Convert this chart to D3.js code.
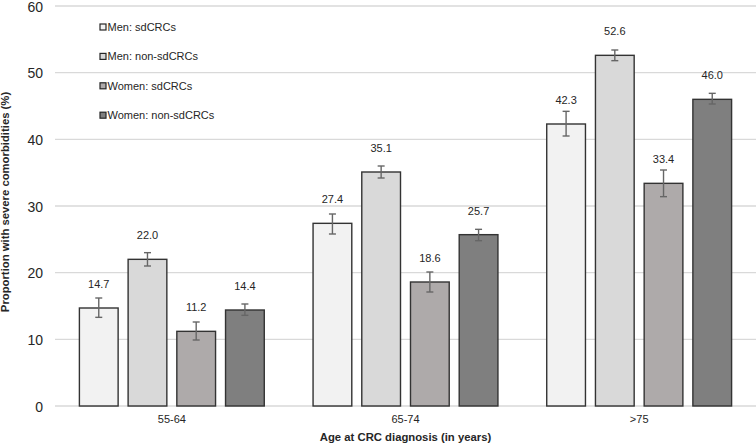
<!DOCTYPE html>
<html lang="en">
<head>
    <meta charset="UTF-8">
    <title>Severe comorbidities by age at CRC diagnosis</title>
    <script src="https://d3js.org/d3.v7.min.js"></script>
    <style>
        body { margin: 0; background: #fff; }
        svg text { font-family: "Liberation Sans", Arial, sans-serif; fill: #262626; }
    </style>
</head>
<body>
<svg id="chart" width="756" height="443"></svg>
<script>
    // data
    const ageGroups = ["55-64", "65-74", ">75"];
    const seriesNames = ["Men: sdCRCs", "Men: non-sdCRCs", "Women: sdCRCs", "Women: non-sdCRCs"];
    const seriesColors = ["#f2f2f2", "#d9d9d9", "#aeaaaa", "#7f7f7f"];
    const menSd = [14.7, 27.4, 42.3];
    const menNon = [22.0, 35.1, 52.6];
    const womenSd = [11.2, 18.6, 33.4];
    const womenNon = [14.4, 25.7, 46.0];
    // lower / upper ends of the error bars
    const menSdLow = [13.3, 25.8, 40.5], menSdHigh = [16.2, 28.8, 44.2];
    const menNonLow = [21.0, 34.2, 51.8], menNonHigh = [23.0, 36.0, 53.4];
    const womenSdLow = [9.9, 17.1, 31.4], womenSdHigh = [12.6, 20.1, 35.4];
    const womenNonLow = [13.6, 24.8, 45.3], womenNonHigh = [15.3, 26.5, 46.9];
    const yTicks = [0, 10, 20, 30, 40, 50, 60];

    const values = [menSd, menNon, womenSd, womenNon];
    const lows = [menSdLow, menNonLow, womenSdLow, womenNonLow];
    const highs = [menSdHigh, menNonHigh, womenSdHigh, womenNonHigh];

    const rows = [];
    ageGroups.forEach((g, gi) => {
        seriesNames.forEach((s, si) => {
            rows.push({group: g, series: s, color: seriesColors[si],
                value: values[si][gi], low: lows[si][gi], high: highs[si][gi]});
        });
    });

    const margin = {left: 55, right: 756, top: 6, bottom: 406};
    const svg = d3.select("#chart");

    const x0 = d3.scaleBand().domain(ageGroups).range([margin.left, margin.right]);
    const pad = 24.4;
    const x1 = d3.scaleBand().domain(seriesNames)
        .range([pad, x0.bandwidth() - pad]).paddingInner(0.205);
    const y = d3.scaleLinear().domain([0, 60]).range([margin.bottom, margin.top]);

    // gridlines
    svg.append("g").selectAll("line")
        .data(yTicks)
        .join("line")
        .attr("x1", margin.left).attr("x2", margin.right)
        .attr("y1", d => y(d)).attr("y2", d => y(d))
        .attr("stroke", "#d9d9d9").attr("stroke-width", 1.3);

    // y axis labels
    const yAxis = d3.axisLeft(y).tickValues(yTicks).tickSize(0).tickPadding(12);
    const yg = svg.append("g")
        .attr("transform", "translate(" + margin.left + ",0)")
        .call(yAxis);
    yg.select(".domain").remove();
    yg.selectAll("text").style("font-size", "14px").attr("dy", "0.38em").attr("fill", "#262626");

    // bars
    svg.append("g").selectAll("rect")
        .data(rows)
        .join("rect")
        .attr("x", d => x0(d.group) + x1(d.series))
        .attr("y", d => y(d.value))
        .attr("width", x1.bandwidth())
        .attr("height", d => y(0) - y(d.value))
        .attr("fill", d => d.color)
        .attr("stroke", "#333")
        .attr("stroke-width", 1.4);

    // error bars
    const eb = svg.append("g").attr("stroke", "#666").attr("stroke-width", 1.4);
    const cx = d => x0(d.group) + x1(d.series) + x1.bandwidth() / 2;
    eb.selectAll(".stem").data(rows).join("line").attr("class", "stem")
        .attr("x1", cx).attr("x2", cx)
        .attr("y1", d => y(d.low)).attr("y2", d => y(d.high));
    eb.selectAll(".capHi").data(rows).join("line").attr("class", "capHi")
        .attr("x1", d => cx(d) - 3.5).attr("x2", d => cx(d) + 3.5)
        .attr("y1", d => y(d.high)).attr("y2", d => y(d.high));
    eb.selectAll(".capLo").data(rows).join("line").attr("class", "capLo")
        .attr("x1", d => cx(d) - 3.5).attr("x2", d => cx(d) + 3.5)
        .attr("y1", d => y(d.low)).attr("y2", d => y(d.low));

    // value labels
    svg.append("g").selectAll("text")
        .data(rows)
        .join("text")
        .attr("x", cx)
        .attr("y", d => y(d.value) - 20)
        .attr("text-anchor", "middle")
        .style("font-size", "11px")
        .text(d => d.value.toFixed(1));

    // category labels
    const xAxis = d3.axisBottom(x0).tickSize(0).tickPadding(9);
    const xg = svg.append("g")
        .attr("transform", "translate(0," + margin.bottom + ")")
        .call(xAxis);
    xg.select(".domain").remove();
    xg.selectAll("text").style("font-size", "11px").attr("fill", "#262626");

    // axis titles
    svg.append("text")
        .attr("x", (margin.left + margin.right) / 2).attr("y", 441)
        .attr("text-anchor", "middle")
        .style("font-size", "11.3px").style("font-weight", "bold")
        .text("Age at CRC diagnosis (in years)");
    svg.append("text")
        .attr("transform", "translate(9,202) rotate(-90)")
        .attr("text-anchor", "middle")
        .style("font-size", "11.3px").style("font-weight", "bold")
        .text("Proportion with severe comorbidities (%)");

    // legend
    const legend = svg.append("g").selectAll("g")
        .data(seriesNames)
        .join("g")
        .attr("transform", (d, i) => "translate(100," + (27 + i * 29.4) + ")");
    legend.append("rect")
        .attr("x", 0).attr("y", -3)
        .attr("width", 6).attr("height", 6)
        .attr("fill", (d, i) => seriesColors[i])
        .attr("stroke", "#262626").attr("stroke-width", 1.2);
    legend.append("text")
        .attr("x", 7.5).attr("y", 4)
        .style("font-size", "11px")
        .text(d => d);
</script>
</body>
</html>
